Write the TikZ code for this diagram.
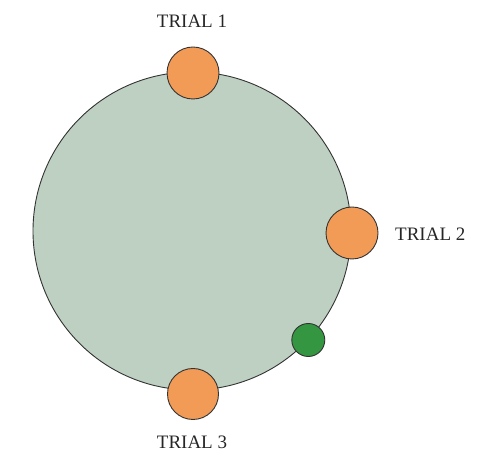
\documentclass[tikz,border=0pt]{standalone}
\usepackage{fontspec}
\setmainfont{Liberation Serif}
\begin{document}
\begin{tikzpicture}[x=1pt,y=1pt,
  outl/.style={draw=black!80, line width=0.9pt},
  trial/.style={circle, outl, fill=orangefill, minimum size=52pt, inner sep=0pt},
  lbl/.style={font=\fontsize{19}{22}\selectfont, inner sep=0pt, anchor=base, text=black!85}]
\definecolor{bigfill}{RGB}{189,208,194}
\definecolor{orangefill}{RGB}{242,155,86}
\definecolor{greenfill}{RGB}{52,150,64}
\useasboundingbox (0,0) rectangle (490,452);
\node[circle, outl, fill=bigfill, minimum size=318pt, inner sep=0pt] (big) at (192,221) {};
\node[trial] (t1) at (193,379) {};
\node[trial] (t2) at (352,219) {};
\node[trial, minimum size=51pt] (t3) at (193,58) {};
\node[circle, outl, fill=greenfill, minimum size=33pt, inner sep=0pt] (g) at (308.3,112) {};
\node[lbl] (l1) at (192,424) {TRIAL 1};
\node[lbl, anchor=base west] (l2) at (395,211) {TRIAL 2};
\node[lbl] (l3) at (192,3.5) {TRIAL 3};
\end{tikzpicture}
\end{document}
